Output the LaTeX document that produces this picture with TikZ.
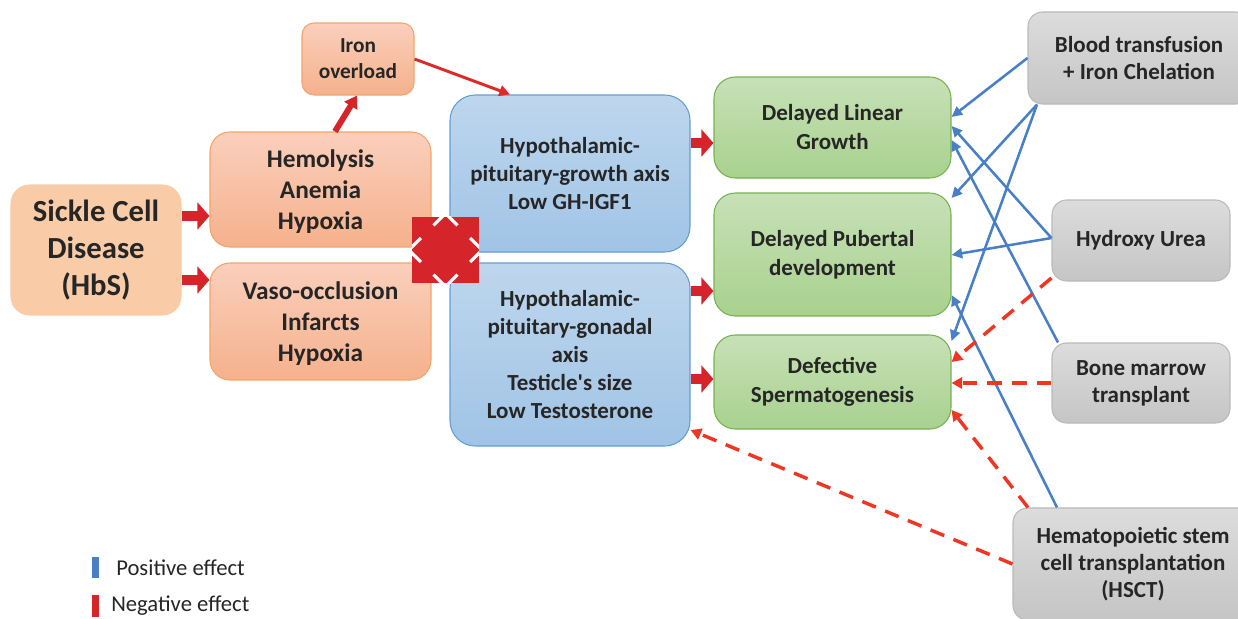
\documentclass[tikz,border=0pt]{standalone}
\usepackage{fontspec}
\setmainfont{Carlito}
\usetikzlibrary{arrows.meta}

\definecolor{scdfill}{RGB}{249,203,166}
\definecolor{orgtop}{RGB}{250,207,188}
\definecolor{orgbot}{RGB}{245,177,140}
\definecolor{orgline}{RGB}{244,164,106}
\definecolor{blutop}{RGB}{190,214,237}
\definecolor{blubot}{RGB}{160,196,230}
\definecolor{bluline}{RGB}{100,158,212}
\definecolor{grntop}{RGB}{199,225,183}
\definecolor{grnbot}{RGB}{168,209,142}
\definecolor{grnline}{RGB}{118,178,80}
\definecolor{grytop}{RGB}{220,220,220}
\definecolor{grybot}{RGB}{197,197,197}
\definecolor{gryline}{RGB}{186,186,186}
\definecolor{blockred}{RGB}{213,37,42}
\definecolor{negred}{RGB}{238,54,36}
\definecolor{posblue}{RGB}{72,127,198}
\definecolor{txt}{RGB}{38,38,38}

\tikzset{
  box/.style={align=center, text=txt, line width=0.8pt, inner sep=2pt},
  causebox/.style={box, draw=orgline, top color=orgtop, bottom color=orgbot, rounded corners=15pt, font=\bfseries\fontsize{19}{23.25}\selectfont},
  axisbox/.style={box, draw=bluline, top color=blutop, bottom color=blubot, rounded corners=19pt, font=\bfseries\fontsize{17.25}{21}\selectfont},
  outbox/.style={box, draw=grnline, top color=grntop, bottom color=grnbot, rounded corners=16pt, font=\bfseries\fontsize{17.25}{21.75}\selectfont},
  treatbox/.style={box, draw=gryline, top color=grytop, bottom color=grybot, rounded corners=11pt, font=\bfseries\fontsize{17.25}{20.25}\selectfont},
  blockarrow/.style={blockred, line width=7.5pt, -{Triangle[length=9pt,width=20pt]}},
  posarrow/.style={posblue, line width=1.9pt, -{Triangle[length=8pt,width=7.5pt]}},
  negarrow/.style={negred, line width=2.6pt, dash pattern=on 11pt off 7.5pt, -{Triangle[length=8pt,width=8.5pt]}},
  notch/.style={white, line width=2.4pt},
  legendtext/.style={anchor=west, inner sep=0pt, text=txt, font=\fontsize{17}{20}\selectfont}
}

\begin{document}
\begin{tikzpicture}[x=0.75pt,y=0.75pt,yscale=-1,xscale=1]
    \useasboundingbox (0,0) rectangle (1238,618);
    \clip (0,0) rectangle (1238,618);

    %Shape: Sickle Cell Disease
    \node [box, draw=scdfill, fill=scdfill, rounded corners=14pt, minimum width=127.5pt, minimum height=97.5pt, font=\bfseries\fontsize{23}{28}\selectfont] (scd) at (96,250) {Sickle Cell\\Disease\\(HbS)};
    %Shape: causes
    \node [causebox, minimum width=165.75pt, minimum height=86.25pt] (hemo) at (320.5,189.5) {\strut Hemolysis\\Anemia\\Hypoxia};
    \node [causebox, minimum width=165.75pt, minimum height=87.75pt] (vaso) at (320.5,321.5) {\strut Vaso-occlusion\\Infarcts\\Hypoxia};
    \node [causebox, rounded corners=9pt, minimum width=84pt, minimum height=54pt, font=\bfseries\fontsize{16}{19.5}\selectfont] (iron) at (358,59) {Iron\\overload};
    %Shape: axes
    \node [axisbox, minimum width=180pt, minimum height=117.75pt] (hpg) at (570,173.5) {Hypothalamic-\\pituitary-growth axis\\Low GH-IGF1};
    \node [axisbox, minimum width=180pt, minimum height=137.25pt] (hpgo) at (570,354.5) {Hypothalamic-\\pituitary-gonadal\\axis\\Testicle\textquotesingle s size\\Low Testosterone};
    %Shape: outcomes
    \node [outbox, minimum width=177.75pt, minimum height=75.75pt] (dlg) at (832.5,127.5) {Delayed Linear\\Growth};
    \node [outbox, minimum width=177.75pt, minimum height=92.25pt] (dpd) at (832.5,254.5) {Delayed Pubertal\\development};
    \node [outbox, minimum width=177.75pt, minimum height=70.5pt] (dsp) at (832.5,382) {Defective\\Spermatogenesis};
    %Shape: treatments
    \node [treatbox, minimum width=166.5pt, minimum height=69pt] (bt) at (1139,58) {Blood transfusion\\+ Iron Chelation};
    \node [treatbox, minimum width=133.5pt, minimum height=60.75pt] (hu) at (1141,240.5) {Hydroxy Urea};
    \node [treatbox, minimum width=133.5pt, minimum height=60pt] (bm) at (1141,383) {Bone marrow\\transplant};
    \node [treatbox, minimum width=180pt, minimum height=84pt] (hsct) at (1133,564) {Hematopoietic stem\\cell transplantation\\(HSCT)};

    %Shape: blocker
    \node [fill=blockred, minimum size=50pt, inner sep=0pt] (blk) at (445.5,250) {};
    \begin{scope}
      \clip (blk.north west) rectangle (blk.south east);
      \draw [notch] (blk.north) ++(-12,9) -- ++(12,-12) -- ++(12,12);
      \draw [notch] (blk.east) ++(-9,-12) -- ++(12,12) -- ++(-12,12);
      \draw [notch] (blk.south) ++(-12,-9) -- ++(12,12) -- ++(12,-12);
      \draw [notch] (blk.west) ++(9,-12) -- ++(-12,12) -- ++(12,12);
    \end{scope}

    %Block arrows
    \draw [blockarrow] (scd.east |- 0,216) -- (hemo.west |- 0,216);
    \draw [blockarrow] (scd.east |- 0,280) -- (vaso.west |- 0,280);
    \draw [blockarrow] (hpg.east |- 0,143) -- (dlg.west |- 0,143);
    \draw [blockarrow] (hpgo.east |- 0,291) -- (dpd.west |- 0,291);
    \draw [blockarrow] (hpgo.east |- 0,379) -- (dsp.west |- 0,379);
    \draw [blockred, line width=4.5pt, -{Triangle[length=9pt,width=11pt]}] (hemo.north -| 335,0) -- (iron.south -| 357,0);
    \draw [blockred!70!negred, line width=2.2pt, -{Triangle[length=8pt,width=8pt]}] (iron.east |- 0,59) -- (hpg.north -| 510,0);

    %Positive effect
    \draw [posarrow] (bt.west) -- (dlg.east |- 0,117);
    \draw [posarrow] (bt.south -| 1037,0) -- (dpd.east |- 0,198);
    \draw [posarrow] (bt.south -| 1037,0) -- (dsp.east |- 0,341);
    \draw [posarrow] (hu.west |- 0,238) -- (dlg.east |- 0,126);
    \draw [posarrow] (hu.west |- 0,238) -- (dpd.east |- 0,255);
    \draw [posarrow] (bm.north -| 1058,0) -- (dlg.east |- 0,140);
    \draw [posarrow] (hsct.north -| 1057,0) -- (dpd.east |- 0,295);

    %Negative effect
    \draw [negarrow] (hu.west |- 0,278) -- (dsp.east |- 0,362);
    \draw [negarrow] (bm.west) -- (dsp.east |- 0,383);
    \draw [negarrow] (hsct.north -| 1028,0) -- (dsp.east |- 0,410);
    \draw [negarrow] (hsct.west) -- (hpgo.east |- 0,430);

    % Legend
    \node [fill=posblue, minimum width=5.25pt, minimum height=15.75pt, inner sep=0pt] (posbar) at (95.5,567.5) {};
    \node [legendtext] (postext) at (116,568) {Positive effect};
    \node [fill=blockred, minimum width=5.25pt, minimum height=16.5pt, inner sep=0pt] (negbar) at (95.5,606) {};
    \node [legendtext] (negtext) at (111,606) {Negative effect};

\end{tikzpicture}
\end{document}
